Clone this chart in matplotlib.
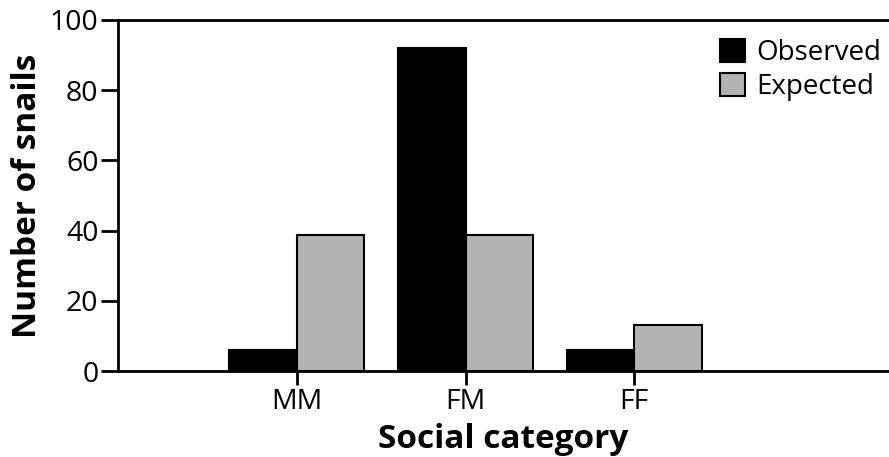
import numpy as np
import matplotlib
matplotlib.use("Agg")
import matplotlib.pyplot as plt

categories = ["MM", "FM", "FF"]
observed = [6, 92, 6]
expected = [38.75, 38.75, 13]
yticks = [0, 20, 40, 60, 80, 100]

plt.rcParams['font.family'] = ['Open Sans', 'DejaVu Sans']

fig = plt.figure(figsize=(8.89, 4.57), dpi=100)
ax = fig.add_axes([118/889, 1-371/457, 1-118/889, (371-20)/457])

x = np.arange(len(categories))
w = 0.4
ax.bar(x - w/2, observed, w, color='black', edgecolor='black', linewidth=1.5, label='Observed')
ax.bar(x + w/2, expected, w, color='#b3b3b3', edgecolor='black', linewidth=1.5, label='Expected')

ax.set_xlim(-1.06, 3.51)
ax.set_ylim(0, 100)
ax.set_xticks(x)
ax.set_xticklabels(categories, fontsize=20.5)
ax.set_yticks(yticks)
ax.set_yticklabels([str(t) for t in yticks], fontsize=20.5)
ax.spines['right'].set_visible(False)
for s in ['left', 'top', 'bottom']:
    ax.spines[s].set_linewidth(2)
ax.tick_params(axis='y', direction='out', length=12, width=2, pad=2)
ax.tick_params(axis='x', direction='out', length=10, width=2, pad=2)

ax.set_xlabel("Social category", fontsize=24, fontweight='bold', labelpad=5)
ax.set_ylabel("Number of snails", fontsize=24, fontweight='bold', labelpad=4)

ax.legend(loc='upper right', bbox_to_anchor=(1.0, 0.97), frameon=False, fontsize=20,
          handlelength=0.9, handleheight=0.9, handletextpad=0.4, labelspacing=0.2,
          borderaxespad=0.1, borderpad=0.2)

fig.savefig("out.png", dpi=100)
